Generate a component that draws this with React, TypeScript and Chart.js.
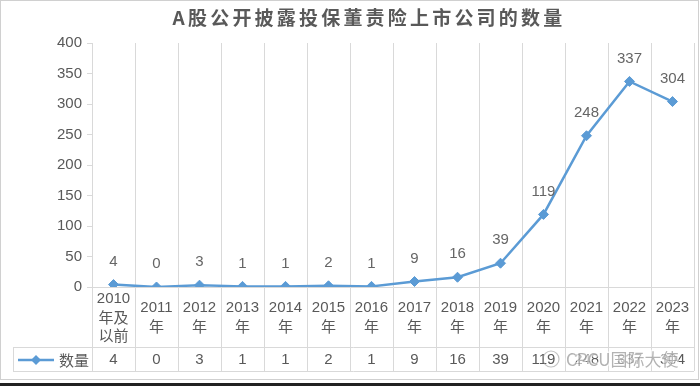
import React, { useEffect, useRef } from 'react';
import { Chart, registerables } from 'chart.js';

Chart.register(...registerables);

const chartTitle = 'A股公开披露投保董责险上市公司的数量';
const seriesName = '数量';
const categories: string[][] = [
  ['2010', '年及', '以前'],
  ['2011', '年'],
  ['2012', '年'],
  ['2013', '年'],
  ['2014', '年'],
  ['2015', '年'],
  ['2016', '年'],
  ['2017', '年'],
  ['2018', '年'],
  ['2019', '年'],
  ['2020', '年'],
  ['2021', '年'],
  ['2022', '年'],
  ['2023', '年'],
];
const values: number[] = [4, 0, 3, 1, 1, 2, 1, 9, 16, 39, 119, 248, 337, 304];
const yMin = 0;
const yMax = 400;
const yStep = 50;
const watermark = 'CPCU国际大使';

const FONT = "'Liberation Sans', Arial, 'Noto Sans CJK SC', sans-serif";
const CJK = "'Noto Sans CJK SC', 'Liberation Sans', sans-serif";
const LINE_COLOR = '#5b9bd5';
const GRID = '#d9d9d9';
const TEXT = '#595959';
const LABEL_TEXT = '#666666';

const CAT_ROW = 60; // height of category label row
const DATA_ROW = 24; // height of data table value row
const TABLE_LEFT = 13;

const framePlugin = {
  id: 'frame',
  beforeDraw(chart: any) {
    const { ctx, width } = chart;
    ctx.save();
    ctx.fillStyle = '#ffffff';
    ctx.fillRect(0, 0, chart.width, chart.height);
    ctx.strokeStyle = '#d0d0d0';
    ctx.lineWidth = 1;
    ctx.strokeRect(0.5, 0.5, width - 2, 379);
    ctx.fillStyle = '#222';
    ctx.fillRect(0, 383, width, 3);
    // title
    ctx.fillStyle = TEXT;
    ctx.font = `bold 19px ${CJK}`;
    (ctx as any).letterSpacing = '3.2px';
    ctx.textAlign = 'center';
    ctx.textBaseline = 'middle';
    ctx.fillText(chartTitle, 369, 18);
    (ctx as any).letterSpacing = '0px';
    ctx.restore();
  },
};

const tablePlugin = {
  id: 'table',
  afterDraw(chart: any) {
    const { ctx, chartArea } = chart;
    const x = chart.scales.x;
    const top = chartArea.bottom;
    const rowTop = top + CAT_ROW;
    const rowBottom = rowTop + DATA_ROW;
    ctx.save();
    // table lines
    ctx.strokeStyle = GRID;
    ctx.lineWidth = 1;
    ctx.beginPath();
    ctx.moveTo(TABLE_LEFT, rowTop + 0.5);
    ctx.lineTo(chartArea.right, rowTop + 0.5);
    ctx.moveTo(TABLE_LEFT, rowBottom + 0.5);
    ctx.lineTo(chartArea.right, rowBottom + 0.5);
    ctx.moveTo(TABLE_LEFT + 0.5, rowTop);
    ctx.lineTo(TABLE_LEFT + 0.5, rowBottom);
    ctx.stroke();

    // category labels
    ctx.fillStyle = TEXT;
    ctx.textAlign = 'center';
    ctx.textBaseline = 'middle';
    const lh = 18.5;
    categories.forEach((lines, i) => {
      const cx = x.getPixelForValue(i);
      const cy = top + CAT_ROW / 2;
      const start = cy - ((lines.length - 1) * lh) / 2;
      lines.forEach((t, j) => {
        ctx.font = /^\d+$/.test(t) ? `15px ${FONT}` : `15px ${CJK}`;
        ctx.fillText(t, cx, start + j * lh);
      });
    });

    // values row
    const vy = rowTop + DATA_ROW / 2 + 1;
    ctx.font = `15px ${FONT}`;
    values.forEach((v, i) => {
      ctx.fillText(String(v), x.getPixelForValue(i), vy);
    });

    // legend key
    ctx.strokeStyle = LINE_COLOR;
    ctx.lineWidth = 2.5;
    ctx.beginPath();
    ctx.moveTo(18, vy);
    ctx.lineTo(54, vy);
    ctx.stroke();
    ctx.fillStyle = LINE_COLOR;
    ctx.beginPath();
    ctx.moveTo(36, vy - 5);
    ctx.lineTo(41, vy);
    ctx.lineTo(36, vy + 5);
    ctx.lineTo(31, vy);
    ctx.closePath();
    ctx.fill();
    ctx.fillStyle = TEXT;
    ctx.textAlign = 'left';
    ctx.font = `15px ${CJK}`;
    ctx.fillText(seriesName, 59, vy);

    // watermark
    ctx.globalAlpha = 0.6;
    ctx.strokeStyle = '#9a9a9a';
    ctx.lineWidth = 1.2;
    ctx.beginPath();
    ctx.arc(551, vy - 1, 8, 0, Math.PI * 2);
    ctx.stroke();
    ctx.font = `17px ${CJK}`;
    ctx.lineWidth = 3;
    ctx.strokeStyle = '#ffffff';
    ctx.strokeText(watermark, 566, vy);
    ctx.fillStyle = '#808080';
    ctx.fillText(watermark, 566, vy);
    ctx.restore();
  },
};

const labelPlugin = {
  id: 'pointLabels',
  afterDatasetsDraw(chart: any) {
    const { ctx } = chart;
    const meta = chart.getDatasetMeta(0);
    ctx.save();
    ctx.fillStyle = LABEL_TEXT;
    ctx.font = `15px ${FONT}`;
    ctx.textAlign = 'center';
    ctx.textBaseline = 'middle';
    meta.data.forEach((pt: any, i: number) => {
      ctx.fillText(String(values[i]), pt.x, pt.y - 23);
    });
    ctx.restore();
  },
};

export default function App() {
  const ref = useRef<HTMLCanvasElement>(null);
  useEffect(() => {
    document.body.style.margin = '0';
    const chart = new Chart(ref.current!, {
      type: 'line',
      data: {
        labels: categories.map((c) => c.join('')),
        datasets: [
          {
            label: seriesName,
            data: values,
            borderColor: LINE_COLOR,
            backgroundColor: LINE_COLOR,
            borderWidth: 2.5,
            pointStyle: 'rectRot',
            pointRadius: 5,
            pointBorderWidth: 1,
            pointBackgroundColor: LINE_COLOR,
            pointBorderColor: LINE_COLOR,
            tension: 0,
          },
        ],
      },
      options: {
        responsive: false,
        animation: false,
        layout: { padding: { left: 0, right: 5, top: 43, bottom: 0 } },
        plugins: {
          legend: { display: false },
          title: { display: false },
          tooltip: { enabled: false },
        },
        scales: {
          x: {
            type: 'category',
            offset: true,
            grid: {
              offset: true,
              color: GRID,
              lineWidth: 1,
              drawOnChartArea: true,
              drawTicks: true,
              tickLength: CAT_ROW + DATA_ROW,
              tickColor: GRID,
            },
            border: { display: true, color: GRID },
            ticks: { display: false },
            afterFit: (s: any) => {
              s.height = 99;
            },
          },
          y: {
            min: yMin,
            max: yMax,
            grid: {
              drawOnChartArea: false,
              drawTicks: true,
              tickLength: 5,
              color: GRID,
            },
            border: { display: true, color: GRID },
            ticks: {
              stepSize: yStep,
              color: TEXT,
              font: { family: FONT, size: 15 },
              padding: 5,
            },
            afterFit: (s: any) => {
              s.width = 92;
            },
          },
        },
      },
      plugins: [framePlugin, labelPlugin, tablePlugin],
    });
    return () => chart.destroy();
  }, []);
  return (
    <div style={{ position: 'absolute', left: 0, top: 0, width: 700, height: 386 }}>
      <canvas ref={ref} width={700} height={386} />
    </div>
  );
}
